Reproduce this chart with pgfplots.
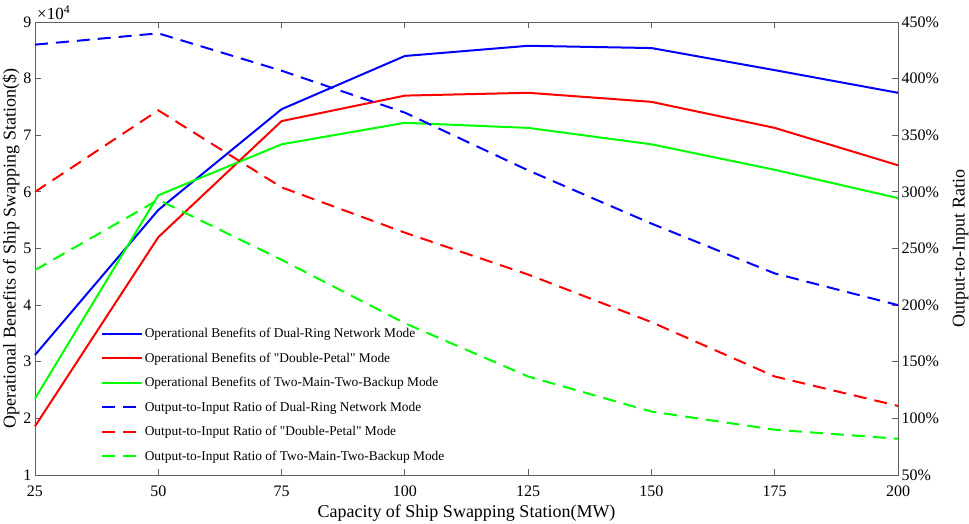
\documentclass[border=0pt]{standalone}
\usepackage{pgfplots}
\pgfplotsset{compat=1.18}
\usepackage{fontspec}
\setmainfont{Liberation Serif}
\begin{document}
\begin{tikzpicture}
\pgfplotsset{
  every axis/.append style={
    scale only axis, width=863pt, height=453pt,
    at={(0pt,0pt)}, anchor=south west,
    xmin=25, xmax=200,
    tick align=inside,
    axis line style={gray!75!black, line width=0.8pt},
    tick style={gray!75!black, line width=0.8pt},
    major tick length=6pt,
    /pgf/number format/assume math mode=true,
    tick label style={font=\fontsize{16}{18}\selectfont},
    label style={font=\fontsize{18}{20}\selectfont},
  },
  sol/.style={line width=2pt},
  das/.style={line width=2pt, dash pattern=on 13pt off 8pt},
}
\begin{axis}[
  ymin=1, ymax=9,
  xtick={25,50,...,200}, ytick={1,2,...,9},
  xtick pos=both, ytick pos=left,
  xticklabel pos=lower,
  xticklabel style={yshift=-7pt},
  xlabel={Capacity of Ship Swapping Station(MW)},
  ylabel={Operational Benefits of Ship Swapping Station(\$)},
  ylabel style={yshift=-3pt},
  xlabel style={yshift=-2pt},
  clip=false,
]
\addplot[sol, color={rgb,255:red,0;green,0;blue,255}] coordinates {(25,3.12) (50,5.68) (75,7.46) (100,8.40) (125,8.58) (150,8.54) (175,8.15) (200,7.75)};
\addplot[sol, color={rgb,255:red,255;green,0;blue,0}] coordinates {(25,1.86) (50,5.20) (75,7.25) (100,7.70) (125,7.75) (150,7.59) (175,7.13) (200,6.47)};
\addplot[sol, color={rgb,255:red,0;green,255;blue,0}] coordinates {(25,2.35) (50,5.94) (75,6.84) (100,7.22) (125,7.13) (150,6.84) (175,6.39) (200,5.89)};
\node[anchor=south west, font=\fontsize{17}{19}\selectfont, inner sep=1pt, xshift=1pt, yshift=1pt] at (rel axis cs:0,1) {×10\textsuperscript{4}};
\end{axis}
\begin{axis}[
  ymin=50, ymax=450,
  axis x line=none, axis y line*=right,
  ytick={50,100,...,450},
  yticklabel={\pgfmathprintnumber{\tick}\%},
  ylabel={Output-to-Input Ratio},
  ylabel style={yshift=-7pt},
  legend style={at={(rel axis cs:0.076,0.3286)}, anchor=north west, draw=none, fill=none,
    font=\fontsize{13.4}{15}\selectfont, row sep=9.6pt, inner sep=0pt},
  legend cell align=left,
  legend image code/.code={\draw[#1] (0pt,0pt) -- (40pt,0pt);},
]
\addlegendimage{sol, color={rgb,255:red,0;green,0;blue,255}}
\addlegendentry{Operational Benefits of Dual-Ring Network Mode}
\addlegendimage{sol, color={rgb,255:red,255;green,0;blue,0}}
\addlegendentry{Operational Benefits of \textquotedbl Double-Petal\textquotedbl{} Mode}
\addlegendimage{sol, color={rgb,255:red,0;green,255;blue,0}}
\addlegendentry{Operational Benefits of Two-Main-Two-Backup Mode}
\addplot[das, color={rgb,255:red,0;green,0;blue,255}] coordinates {(25,430) (50,440) (75,407) (100,370) (125,319) (150,272) (175,228) (200,200)};
\addlegendentry{Output-to-Input Ratio of Dual-Ring Network Mode}
\addplot[das, color={rgb,255:red,255;green,0;blue,0}] coordinates {(25,300) (50,372) (75,304) (100,264) (125,227) (150,185) (175,137) (200,111)};
\addlegendentry{Output-to-Input Ratio of \textquotedbl Double-Petal\textquotedbl{} Mode}
\addplot[das, color={rgb,255:red,0;green,255;blue,0}] coordinates {(25,231) (50,293) (75,240) (100,184) (125,137) (150,106) (175,90) (200,82)};
\addlegendentry{Output-to-Input Ratio of Two-Main-Two-Backup Mode}
\end{axis}
\pgfresetboundingbox
\useasboundingbox (-35pt,-48pt) rectangle (934pt,475pt);
\end{tikzpicture}
\end{document}
